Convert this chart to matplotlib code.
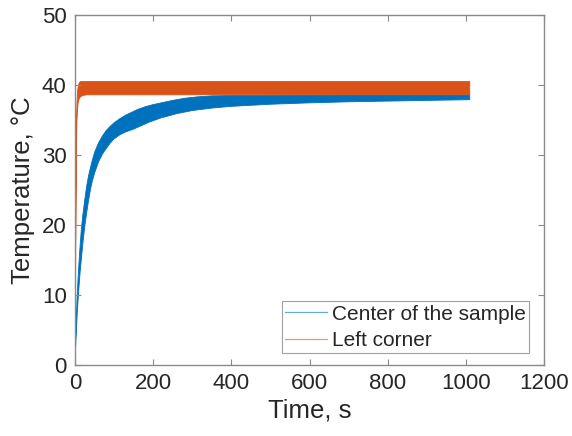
import matplotlib
matplotlib.use("Agg")
import matplotlib.pyplot as plt
from matplotlib.lines import Line2D
import numpy as np

plt.rcParams['font.family'] = ['Liberation Sans', 'DejaVu Sans']

# Center of the sample: upper / lower envelope of the oscillating temperature
center_t_upper = [0, 2, 4, 6, 8, 10, 13, 16, 20, 25, 30, 35, 40, 45, 51, 60, 70, 80, 90, 100,
                  115, 130, 145, 160, 180, 200, 225, 250, 280, 312, 350, 400, 500, 700, 1010]
center_T_upper = [0.7, 4.5, 7.8, 10.3, 12.5, 14.4, 17.0, 19.2, 21.4, 23.6, 25.6, 27.1, 28.3, 29.4,
                  30.5, 31.7, 32.7, 33.5, 34.1, 34.6, 35.2, 35.7, 36.1, 36.5, 36.9, 37.2, 37.5,
                  37.8, 38.1, 38.3, 38.45, 38.5, 38.55, 38.6, 38.6]
center_t_lower = [0, 2, 4, 6, 8, 10, 13, 16, 20, 25, 30, 35, 40, 44, 50, 60, 70, 77, 90, 100,
                  115, 130, 150, 166, 190, 220, 260, 300, 350, 400, 500, 600, 700, 800, 900, 1010]
center_T_lower = [0.7, 3.0, 5.5, 7.6, 9.4, 11.0, 13.2, 15.0, 17.3, 19.8, 21.8, 23.6, 25.2, 26.2,
                  27.4, 29.0, 30.1, 30.7, 31.7, 32.3, 32.9, 33.3, 33.7, 34.1, 34.7, 35.3, 35.9,
                  36.35, 36.7, 36.95, 37.25, 37.45, 37.6, 37.7, 37.8, 37.9]

# Left corner: upper / lower envelope of the oscillating temperature
corner_t_upper = [0, 1, 2, 3, 4, 5, 6, 7, 9, 11, 13, 16, 20, 1010]
corner_T_upper = [4.3, 12.0, 22.0, 30.0, 35.0, 37.3, 38.5, 39.3, 40.0, 40.3, 40.45, 40.5, 40.5, 40.5]
corner_t_lower = [0, 1, 2, 3, 4, 5, 6, 8, 10, 12, 15, 20, 25, 30, 1010]
corner_T_lower = [4.3, 10.0, 18.0, 26.0, 32.0, 34.8, 36.3, 37.4, 37.9, 38.15, 38.35, 38.5, 38.55, 38.6, 38.6]

series_labels = ["Center of the sample", "Left corner"]
colors = ["#0072BD", "#D95319"]

x_ticks = [0, 200, 400, 600, 800, 1000, 1200]
y_ticks = [0, 10, 20, 30, 40, 50]

fig = plt.figure(figsize=(5.72, 4.36), dpi=100)
ax = fig.add_axes([75/572, 1-365/436, (544-75)/572, (365-15)/436])


def band(ax, tu, Tu, tl, Tl, color):
    xs = np.array(tu + tl[::-1])
    ys = np.array(Tu + Tl[::-1])
    ax.fill(xs, ys, color=color, lw=0.6, ec=color)


band(ax, center_t_upper, center_T_upper, center_t_lower, center_T_lower, colors[0])
band(ax, corner_t_upper, corner_T_upper, corner_t_lower, corner_T_lower, colors[1])

ax.set_xlim(0, 1200)
ax.set_ylim(0, 50)
ax.set_xticks(x_ticks)
ax.set_yticks(y_ticks)

axcol = '#8a8a8a'
txtcol = '#262626'
for s in ax.spines.values():
    s.set_color(axcol)
    s.set_linewidth(1.0)
ax.tick_params(direction='in', length=4, width=0.8, color=axcol, labelcolor=txtcol,
               labelsize=16, top=True, right=True, pad=6)

ax.set_xlabel("Time, s", fontsize=18.5, color=txtcol, labelpad=3)
ax.set_ylabel("Temperature, °C", fontsize=18.5, color=txtcol, labelpad=5)

handles = [Line2D([0], [0], color=c, lw=0.9, alpha=0.6) for c in colors]
leg = ax.legend(handles, series_labels, loc='lower right', fontsize=15, frameon=True,
                fancybox=False, edgecolor=axcol, handlelength=2.0, handletextpad=0.25,
                borderpad=0.15, labelspacing=0.35, borderaxespad=0,
                bbox_to_anchor=(1 - 15/469, 12/350))
leg.get_frame().set_linewidth(0.8)
for t in leg.get_texts():
    t.set_color(txtcol)

fig.savefig("out.png", dpi=100)
